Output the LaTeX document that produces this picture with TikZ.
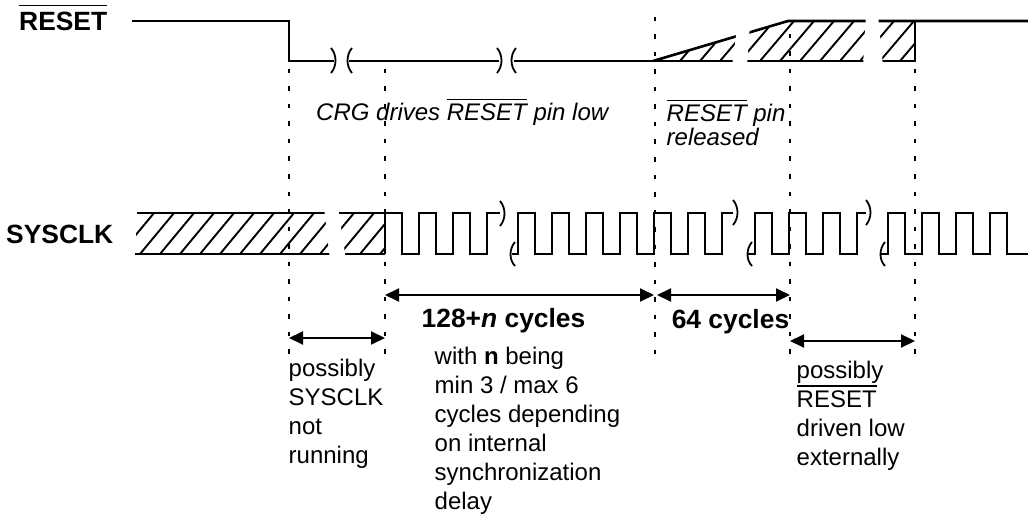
\documentclass[tikz,border=0pt]{standalone}
\usepackage{fontspec}
\setmainfont{Liberation Sans}
\usetikzlibrary{arrows.meta}
\newcommand{\ovl}[2][0.15em]{{\setbox0\hbox{#2}\rlap{\raisebox{\dimexpr\ht0+#1\relax}{\rule{\wd0}{1.4pt}}}\box0}}
\tikzset{
  sig/.style={line width=2.6pt, line join=miter},
  hatchln/.style={line width=1.9pt},
  brk/.style={line width=1.8pt},
  guide/.style={line width=1.7pt, dash pattern=on 4.5pt off 13pt},
  dimarrow/.style={line width=2pt, {Triangle[length=14pt,width=13pt]}-{Triangle[length=14pt,width=13pt]}},
  lbl/.style={inner sep=0pt, anchor=base west, font=\fontsize{24}{29}\selectfont},
  blbl/.style={inner sep=0pt, font=\fontsize{26.4}{31}\selectfont\bfseries},
  ilbl/.style={inner sep=0pt, anchor=base west, font=\fontsize{24}{29}\selectfont\itshape},
}
\begin{document}
\begin{tikzpicture}[x=1pt,y=-1pt]
\useasboundingbox (0,0) rectangle (1028,516);

% ---- hatching ----
\begin{scope}
  \clip (136,213) rectangle (385,254);
  \foreach \hx in {100,120,...,400} \draw[hatchln] (\hx,254) -- ++(34,-41);
\end{scope}
\begin{scope}
  \clip (653,61) -- (788,21) -- (915,21) -- (915,61) -- cycle;
  \foreach \hx in {600,620,...,920} \draw[hatchln] (\hx,61) -- ++(34,-40);
\end{scope}

% ---- RESET signal ----
\draw[sig] (131.7,21) -- (289,21) -- (289,61) -- (334,61);
\draw[sig] (349,61) -- (499,61);
\draw[sig] (514,61) -- (915,61) -- (915,21);
\draw[sig] (653,61) -- (788,21) -- (1028,21);

% ---- SYSCLK signal ----
\draw[sig] (137,213) -- (385,213);
\draw[sig] (135,254) -- (385,254);
\draw[sig] (385,254) |- (402,213) |- (419,254) |- (436,213) |- (453,254) |- (470,213) |- (487,254) |- (500,213);
\draw[sig] (512,254) -- (518,254) |- (535,213) |- (552,254) |- (569,213) |- (586,254) |- (603,213) |- (620,254) |- (637,213) |- (654,254) |- (671,213) |- (688,254) |- (705,213) |- (722,254) |- (733,213);
\draw[sig] (748,254) -- (755,254) |- (772,213) |- (789,254) |- (806,213) |- (823,254) |- (840,213) |- (857,254) |- (866,213);
\draw[sig] (880,254) -- (888,254) |- (905,213) |- (922,254) |- (939,213) |- (956,254) |- (973,213) |- (990,254) |- (1007,213) |- (1028,254);

% ---- break gaps ----
\fill[white] (324,207) -- (338,207) -- (346,260) -- (330,260) -- cycle;
\fill[white] (737,28) -- (750,25) -- (747,66) -- (732,66) -- cycle;
\fill[white] (866,15) -- (878,15) -- (883,66) -- (863,66) -- cycle;

% ---- break marks ----
\draw[brk] (331,48) .. controls (337,55) and (337,66) .. (331,73);
\draw[brk] (352,48) .. controls (346,55) and (346,66) .. (352,73);
\draw[brk] (497,48) .. controls (503,55) and (503,66) .. (497,73);
\draw[brk] (516,48) .. controls (510,55) and (510,66) .. (516,73);
\draw[brk] (500,201) .. controls (506,208) and (506,219) .. (500,226);
\draw[brk] (515,242) .. controls (509,249) and (509,260) .. (515,266);
\draw[brk] (733,200) .. controls (739,207) and (739,218) .. (733,225);
\draw[brk] (752,242) .. controls (746,249) and (746,260) .. (752,266);
\draw[brk] (866,200) .. controls (872,207) and (872,218) .. (866,225);
\draw[brk] (885,242) .. controls (879,249) and (879,260) .. (885,266);

% ---- dashed guides ----
\draw[guide] (289,69) -- (289,357);
\draw[guide] (385,69) -- (385,357);
\draw[guide] (655,17) -- (655,357);
\draw[guide] (790,34) -- (790,357);
\draw[guide] (915,69) -- (915,357);

% ---- dimension arrows ----
\coordinate (a1l) at (289,338); \coordinate (a1r) at (385,338);
\coordinate (a2l) at (385,295); \coordinate (a2r) at (654,295);
\coordinate (a3l) at (657,295); \coordinate (a3r) at (790,295);
\coordinate (a4l) at (790,341); \coordinate (a4r) at (915,341);
\draw[dimarrow] (a1l) -- (a1r);
\draw[dimarrow] (a2l) -- (a2r);
\draw[dimarrow] (a3l) -- (a3r);
\draw[dimarrow] (a4l) -- (a4r);

% ---- labels ----
\node[blbl, anchor=base west] (tR) at (19,30.5) {\ovl[0.22em]{RESET}};
\node[blbl, anchor=base west] (tS) at (6,243) {SYSCLK};
\node[ilbl] (crg) at (316,120.5) {CRG drives \ovl{RESET} pin low};
\node[ilbl] (rel1) at (666.5,121.5) {\ovl{RESET} pin};
\node[ilbl] (rel2) at (666.5,145.5) {released};
\node[blbl, anchor=base] (c128) at (503.5,327) {128+\textit{n} cycles};
\node[blbl, anchor=base] (c64) at (730.5,328) {64 cycles};

\node[lbl] (l1) at (288.5,376) {possibly};
\node[lbl] (l2) at (288.5,405) {SYSCLK};
\node[lbl] (l3) at (288.5,434) {not};
\node[lbl] (l4) at (288.5,463) {running};

\node[lbl] (m1) at (434.5,364) {with \textbf{n} being};
\node[lbl] (m2) at (434.5,393) {min 3 / max 6};
\node[lbl] (m3) at (434.5,422) {cycles depending};
\node[lbl] (m4) at (434.5,451) {on internal};
\node[lbl] (m5) at (434.5,480) {synchronization};
\node[lbl] (m6) at (434.5,509) {delay};

\node[lbl] (r1) at (796.5,378) {possibly};
\node[lbl] (r2) at (796.5,407) {\ovl{RESET}};
\node[lbl] (r3) at (796.5,436) {driven low};
\node[lbl] (r4) at (796.5,465) {externally};
\end{tikzpicture}
\end{document}
